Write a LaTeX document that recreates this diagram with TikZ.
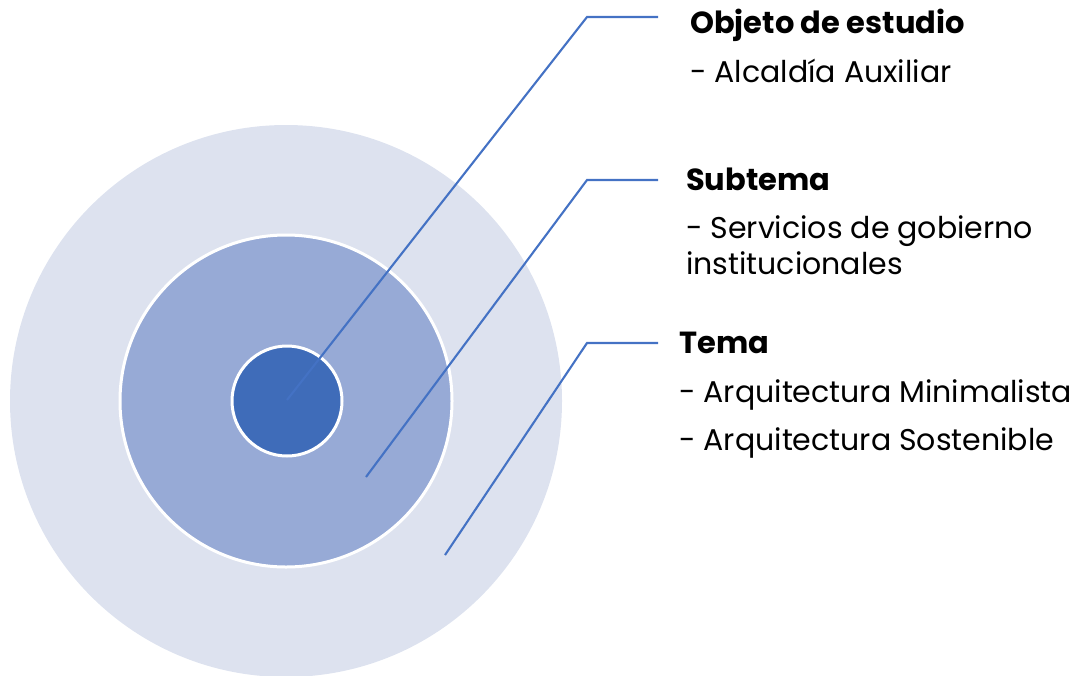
\documentclass[tikz,border=0pt]{standalone}
\usepackage{fontspec}
\setmainfont{Poppins}
\definecolor{outerc}{HTML}{DDE2EF}
\definecolor{midc}{HTML}{97AAD6}
\definecolor{innerc}{HTML}{3F6CB9}
\definecolor{linec}{HTML}{4472C4}
\tikzset{
  ring/.style={circle, draw=white, line width=3pt, inner sep=0pt},
  leader/.style={draw=linec, line width=2.1pt},
  head/.style={anchor=base west, inner sep=0pt, font=\fontsize{30.5}{36}\selectfont\bfseries},
  item/.style={anchor=base west, inner sep=0pt, font=\fontsize{30}{36}\selectfont},
}
\begin{document}
\begin{tikzpicture}[x=1pt,y=-1pt]
\useasboundingbox (0,0) rectangle (1081,675);
\node[ring, draw=none, fill=outerc, minimum size=552pt] (outer) at (286,401) {};
\node[ring, fill=midc, minimum size=332pt] (mid) at (286,401) {};
\node[ring, fill=innerc, minimum size=110pt] (inner) at (287,401) {};
\coordinate (e1) at (287,400);
\coordinate (e2) at (366,477);
\coordinate (e3) at (445,555);
\coordinate (b1) at (587,17);
\coordinate (b2) at (587,180);
\coordinate (b3) at (587,343);
\coordinate (t1) at (658,17);
\coordinate (t2) at (658,180);
\coordinate (t3) at (658,343);
\draw[leader] (e1) -- (b1) -- (t1);
\draw[leader] (e2) -- (b2) -- (t2);
\draw[leader] (e3) -- (b3) -- (t3);
\node[head] (h1) at (690,33) {Objeto de estudio};
\node[item] (i1) at (690,82) {- Alcaldía Auxiliar};
\node[head] (h2) at (686,190) {Subtema};
\node[item] (i2) at (686,238) {- Servicios de gobierno};
\node[item] (i3) at (686,274) {institucionales};
\node[head] (h3) at (679,353) {Tema};
\node[item] (i4) at (679,402) {- Arquitectura Minimalista};
\node[item] (i5) at (679,450) {- Arquitectura Sostenible};
\end{tikzpicture}
\end{document}
